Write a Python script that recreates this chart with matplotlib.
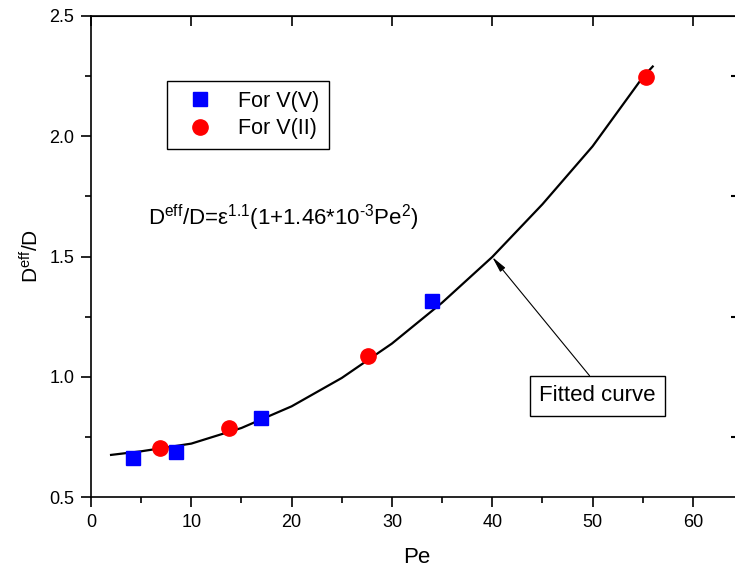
import matplotlib
matplotlib.use("Agg")
import matplotlib.pyplot as plt
import numpy as np

plt.rcParams['font.family'] = ['Liberation Sans', 'DejaVu Sans']
plt.rcParams['mathtext.fontset'] = 'custom'
plt.rcParams['mathtext.rm'] = 'Liberation Sans'
plt.rcParams['mathtext.it'] = 'Liberation Sans'
plt.rcParams['mathtext.default'] = 'regular'

# measured points
pe_v5 = [4.2, 8.5, 16.9, 34.0]
d_v5 = [0.663, 0.688, 0.83, 1.313]
pe_v2 = [6.9, 13.8, 27.6, 55.3]
d_v2 = [0.703, 0.785, 1.088, 2.247]

# fitted curve
pe_fit = [2, 5, 10, 15, 20, 25, 30, 35, 40, 45, 50, 55, 56]
d_fit = [0.675, 0.69, 0.722, 0.787, 0.877, 0.995, 1.138, 1.308, 1.498, 1.717, 1.958, 2.245, 2.29]

fig = plt.figure(figsize=(7.35, 5.75), dpi=100)
ax = fig.add_axes([91 / 735, 78 / 575, 652 / 735, 481 / 575])

ax.plot(pe_fit, d_fit, color='black', lw=1.6, zorder=2)
ax.plot(pe_v5, d_v5, 's', color='#0000ff', ms=10, ls='none', label='For V(V)', zorder=3)
ax.plot(pe_v2, d_v2, 'o', color='#ff0000', ms=11, ls='none', label='For V(II)', zorder=3)

ax.set_xlim(0, 65)
ax.set_ylim(0.5, 2.5)
ax.set_xticks(np.arange(0, 61, 10))
ax.set_xticks(np.arange(5, 65, 10), minor=True)
ax.set_yticks([0.5, 1.0, 1.5, 2.0, 2.5])
ax.set_yticks([0.75, 1.25, 1.75, 2.25], minor=True)
ax.tick_params(which='both', direction='out', top=False, right=False, labelsize=13, width=1.2)
ax.tick_params(which='major', length=7, pad=5)
ax.tick_params(which='minor', length=4)
for s in ax.spines.values():
    s.set_linewidth(1.2)

# inward ticks on top and right
secx = ax.secondary_xaxis('top')
secx.set_xticks(np.arange(0, 61, 10))
secx.tick_params(direction='in', length=7, width=1.2, labeltop=False)
secx.set_xticklabels([])
secy = ax.secondary_yaxis('right')
secy.set_yticks([0.75, 1.25, 1.75, 2.25])
secy.tick_params(direction='in', length=9, width=1.5)
secy.set_yticklabels([])

ax.set_xlabel('Pe', fontsize=16, labelpad=12)
ax.set_ylabel(r'$D^{eff}/D$', fontsize=15, labelpad=5)

leg = ax.legend(loc='upper left', bbox_to_anchor=(167 / 735, 1 - 81 / 575),
                bbox_transform=fig.transFigure, borderaxespad=0, fontsize=15.5,
                fancybox=False, edgecolor='black', framealpha=1,
                handletextpad=0.65, borderpad=0.45, labelspacing=0.3, handlelength=2.2)
leg.get_frame().set_linewidth(1.0)

ax.text(148 / 735, 1 - 218 / 575,
        r'$D^{eff}/D\text{=}\epsilon^{1.1}(1\text{+}1.46\text{*}10^{\text{-}3}Pe^{2})$',
        transform=fig.transFigure, fontsize=16, va='center', ha='left')

ax.annotate('Fitted curve', xy=(40, 1.498), xytext=(50.5, 0.92),
            fontsize=16, ha='center', va='center',
            bbox=dict(boxstyle='square,pad=0.42', fc='white', ec='black', lw=1.0),
            arrowprops=dict(arrowstyle='-|>,head_length=0.6,head_width=0.12',
                            color='black', lw=0.8, shrinkA=0, shrinkB=0,
                            relpos=(0.5, 1.0)))

fig.savefig('out.png', dpi=100)
